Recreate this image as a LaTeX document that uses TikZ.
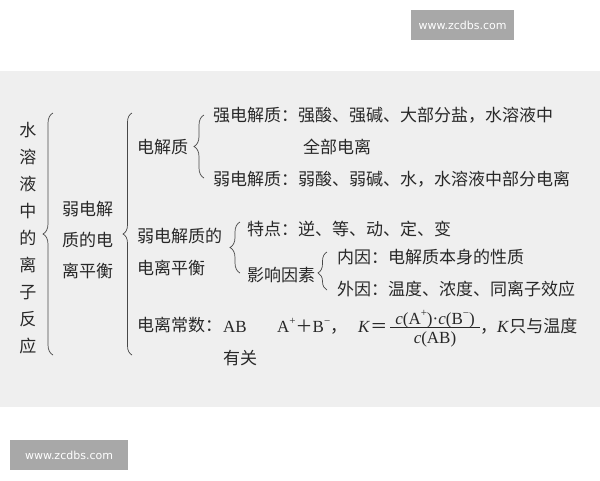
\documentclass[tikz,border=0pt]{standalone}
\usepackage{fontspec}
\setmainfont{Liberation Serif}
\newfontfamily\cjk{Noto Sans CJK SC}
\newfontfamily\wmfont{DejaVu Sans}
\usetikzlibrary{decorations.pathreplacing}
\definecolor{bandgray}{HTML}{EFEFEF}
\definecolor{wmgray}{HTML}{A8A8A8}
\definecolor{ink}{HTML}{282828}
\newcommand\mysup[1]{\raisebox{0.42em}{\fontsize{11}{11}\selectfont #1}}
\begin{document}
\begin{tikzpicture}[x=1pt,y=-1pt,
  txt/.style={inner sep=0pt, anchor=base west, text=ink, font=\fontsize{17}{17}\selectfont\cjk},
  lat/.style={inner sep=0pt, anchor=base west, text=ink, font=\fontsize{17}{17}\selectfont},
  bracegroup/.style={draw=ink!85, line width=0.7pt, decorate, decoration={brace, amplitude=#1}},
  wm/.style={fill=wmgray, text=white, font=\fontsize{11}{11}\selectfont\wmfont, inner sep=0pt}]
\useasboundingbox (0,0) rectangle (600,480);
\fill[white] (0,0) rectangle (600,480);
\fill[bandgray] (0,71) rectangle (600,407);
% watermarks
\node[wm, minimum width=103pt, minimum height=30pt] (wm1) at (462.5,25) {www.zcdbs.com};
\node[wm, minimum width=118pt, minimum height=30pt] (wm2) at (69,455) {www.zcdbs.com};
% level 1 column
\foreach \c [count=\i] in {水,溶,液,中,的,离,子,反,应}
  \node[txt, anchor=base] (col\i) at (28, {136.5+27*(\i-1)}) {\c};
% level 2
\node[txt] (l2a) at (62,215.5) {弱电解};
\node[txt] (l2b) at (62,246.5) {质的电};
\node[txt] (l2c) at (62,277.5) {离平衡};
% level 3
\node[txt] (dj) at (137,153.5) {电解质};
\node[txt] (pha) at (137,242.5) {弱电解质的};
\node[txt] (phb) at (137,274.5) {电离平衡};
\node[txt] (cs) at (137,331.5) {电离常数：};
\node[lat] (ab) at (223,332) {AB};
\node[txt] (yg) at (223,364.5) {有关};
% level 4
\node[txt] (qiang) at (213,121.5) {强电解质：强酸、强碱、大部分盐，水溶液中};
\node[txt] (qiang2) at (303,153.5) {全部电离};
\node[txt] (ruo) at (213,185.5) {弱电解质：弱酸、弱碱、水，水溶液中部分电离};
\node[txt] (td) at (247,235.5) {特点：逆、等、动、定、变};
\node[txt] (yx) at (247,281.5) {影响因素};
\node[txt] (ny) at (337,263.5) {内因：电解质本身的性质};
\node[txt] (wy) at (337,295.5) {外因：温度、浓度、同离子效应};
% formula
\node[lat] (eqL) at (277,332) {A\mysup{+}{\cjk ＋}B\mysup{−}{\cjk ，}};
\node[lat] (keq) at (358,332) {\textit{K}{\cjk ＝}};
\node[lat, anchor=base] (num) at (435,324) {\textit{c}(A\mysup{+})·\textit{c}(B\mysup{−})};
\node[lat, anchor=base] (den) at (435,343.5) {\textit{c}(AB)};
\draw[ink, line width=0.6pt] (390,327.5) -- (480,327.5);
\node[lat] (tail) at (480,332) {{\cjk ，}\textit{K}{\cjk 只与温度}};
% braces
\draw[bracegroup=10pt] (53,355) -- (53,113);
\draw[bracegroup=9pt] (132,355) -- (132,113);
\draw[bracegroup=10pt] (204,178) -- (204,115);
\draw[bracegroup=10pt] (240,273) -- (240,222);
\draw[draw=ink!85, line width=0.7pt, decorate, decoration={brace, amplitude=9pt, aspect=0.45}] (327,290) -- (327,252);
\end{tikzpicture}
\end{document}
